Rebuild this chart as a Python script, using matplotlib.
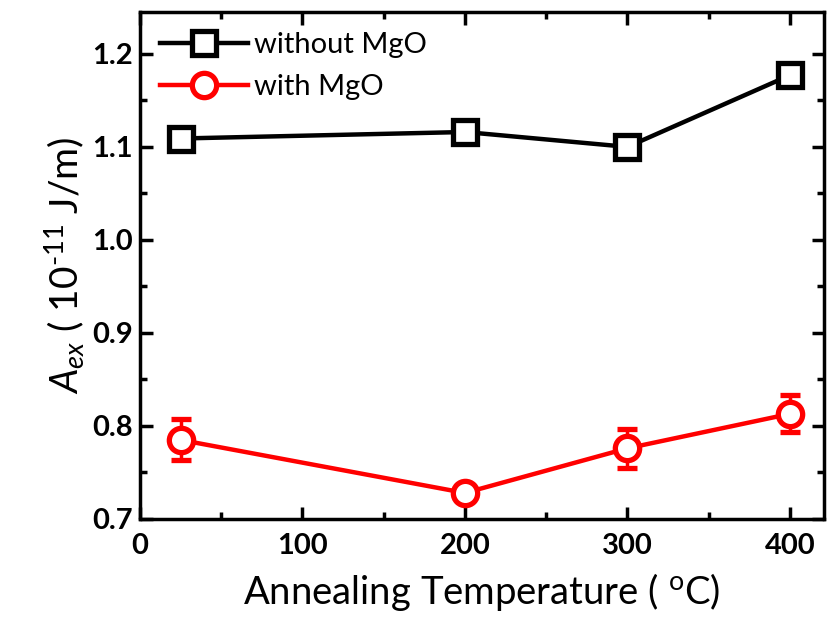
"""Exchange stiffness vs annealing temperature, with and without MgO."""

import matplotlib

matplotlib.use("Agg")
import matplotlib.pyplot as plt
from matplotlib.lines import Line2D
from matplotlib.ticker import MultipleLocator

# data
temperature = [25, 200, 300, 400]
aex_without_mgo = [1.109, 1.116, 1.100, 1.177]
err_without_mgo = [0.010, 0.010, 0.010, 0.008]
aex_with_mgo = [0.785, 0.728, 0.776, 0.813]
err_with_mgo = [0.022, 0.006, 0.021, 0.020]
series_labels = ["without MgO", "with MgO"]

plt.rcParams["font.family"] = ["Lato", "DejaVu Sans"]
plt.rcParams["mathtext.fontset"] = "custom"
plt.rcParams["mathtext.rm"] = "Lato"
plt.rcParams["mathtext.it"] = "Lato:italic"


def main() -> None:
    fig = plt.figure(figsize=(8.27, 6.31), dpi=100)
    ax = fig.add_axes([0.1693, 0.1775, 0.8271, 0.8035])

    common = dict(lw=3.2, elinewidth=2.5, capsize=7, capthick=2.5,
                  markersize=17.5, markeredgewidth=3.8, markerfacecolor="white")
    ax.errorbar(temperature, aex_without_mgo, yerr=err_without_mgo, color="black",
                marker="s", **common)
    ax.errorbar(temperature, aex_with_mgo, yerr=err_with_mgo, color="red",
                marker="o", **common)

    ax.set_xlim(0, 421)
    ax.set_ylim(0.7, 1.245)
    ax.xaxis.set_major_locator(MultipleLocator(100))
    ax.xaxis.set_minor_locator(MultipleLocator(50))
    ax.yaxis.set_major_locator(MultipleLocator(0.1))
    ax.yaxis.set_minor_locator(MultipleLocator(0.05))
    ax.yaxis.set_major_formatter(plt.FormatStrFormatter("%.1f"))

    ax.tick_params(which="both", direction="in", top=True, right=True, width=2.5)
    ax.tick_params(which="major", length=9, labelsize=21, pad=5)
    ax.tick_params(axis="x", which="major", pad=10)
    ax.tick_params(which="minor", length=5)
    for label in ax.get_xticklabels() + ax.get_yticklabels():
        label.set_fontweight("bold")
    for spine in ax.spines.values():
        spine.set_linewidth(2.5)

    ax.set_xlabel("Annealing Temperature ( $^{\\rm o}$C)", fontsize=27.5, labelpad=9)
    ax.set_ylabel("$\\mathit{A}_{\\mathit{ex}}$ ( 10$^{\u2010 11}$ J/m)", fontsize=28, labelpad=4)

    handles = [
        Line2D([], [], color="black", lw=3.2, marker="s", markersize=17.5,
               markeredgewidth=3.8, markerfacecolor="white"),
        Line2D([], [], color="red", lw=3.2, marker="o", markersize=17.5,
               markeredgewidth=3.8, markerfacecolor="white"),
    ]
    ax.legend(handles, series_labels, loc="upper left", frameon=False, fontsize=21,
              handlelength=3.0, handletextpad=0.2, borderaxespad=0.3, labelspacing=0.55)

    fig.savefig("out.png", dpi=100)
    plt.close(fig)


if __name__ == "__main__":
    main()
